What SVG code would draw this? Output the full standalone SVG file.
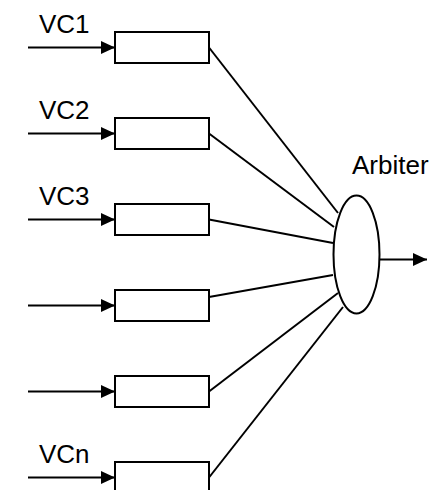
<svg xmlns="http://www.w3.org/2000/svg" width="447" height="490" viewBox="0 0 447 490">
<style>
.box{fill:#fff;stroke:#000;stroke-width:2}
.ln{stroke:#000;stroke-width:2;fill:none}
.lbl{font-family:"Liberation Sans",Arial,sans-serif;font-size:26px;fill:#000}
</style>
<defs>
<marker id="ah" markerWidth="14" markerHeight="13" refX="14" refY="6.5" orient="auto" markerUnits="userSpaceOnUse">
<path d="M0,0 L14,6.5 L0,13 Z" fill="#000"/>
</marker>
</defs>
<rect width="447" height="490" fill="#fff"/>
<g id="connectors">
<line class="ln" x1="28" y1="47.5" x2="115" y2="47.5" marker-end="url(#ah)"/>
<line class="ln" x1="28" y1="133.5" x2="115" y2="133.5" marker-end="url(#ah)"/>
<line class="ln" x1="28" y1="219.5" x2="115" y2="219.5" marker-end="url(#ah)"/>
<line class="ln" x1="28" y1="305.5" x2="115" y2="305.5" marker-end="url(#ah)"/>
<line class="ln" x1="28" y1="391.5" x2="115" y2="391.5" marker-end="url(#ah)"/>
<line class="ln" x1="28" y1="477.5" x2="115" y2="477.5" marker-end="url(#ah)"/>
<line class="ln" x1="209" y1="47.5" x2="338" y2="213"/>
<line class="ln" x1="209" y1="133.5" x2="334" y2="227"/>
<line class="ln" x1="209" y1="219.5" x2="333" y2="243"/>
<line class="ln" x1="209" y1="297" x2="333" y2="275"/>
<line class="ln" x1="209" y1="391.5" x2="338" y2="293"/>
<line class="ln" x1="209" y1="477.5" x2="343" y2="307"/>
<line class="ln" x1="380" y1="259.5" x2="427" y2="259.5" marker-end="url(#ah)"/>
</g>
<g id="vc1"><rect class="box" x="115" y="32" width="94" height="31"/><text class="lbl" x="39" y="33">VC1</text></g>
<g id="vc2"><rect class="box" x="115" y="118" width="94" height="31"/><text class="lbl" x="39" y="119">VC2</text></g>
<g id="vc3"><rect class="box" x="115" y="204" width="94" height="31"/><text class="lbl" x="39" y="205">VC3</text></g>
<g id="vc4"><rect class="box" x="115" y="290" width="94" height="31"/></g>
<g id="vc5"><rect class="box" x="115" y="376" width="94" height="31"/></g>
<g id="vcn"><rect class="box" x="115" y="462" width="94" height="31"/><text class="lbl" x="39" y="463">VCn</text></g>
<g id="arbiter"><ellipse class="box" cx="356.5" cy="254.5" rx="23" ry="59"/><text class="lbl" x="352" y="174">Arbiter</text></g>
</svg>
